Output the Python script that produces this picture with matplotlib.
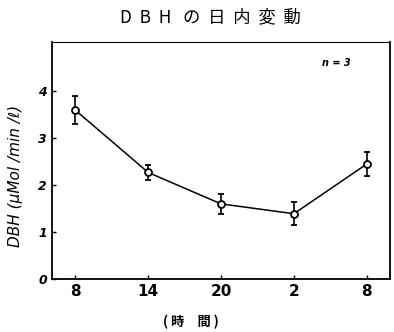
import matplotlib
matplotlib.use("Agg")
import matplotlib.pyplot as plt

# 時刻 (8時から翌8時まで)
hours = ["8", "14", "20", "2", "8"]
dbh_mean = [3.60, 2.27, 1.60, 1.39, 2.45]
dbh_err = [0.30, 0.15, 0.22, 0.24, 0.25]
y_ticks = [0, 1, 2, 3, 4]

plt.rcParams["font.family"] = ["DejaVu Sans", "Noto Sans CJK JP"]
cjk = ["Noto Sans CJK JP", "DejaVu Sans"]

fig = plt.figure(figsize=(3.94, 3.32), dpi=100)
ax = fig.add_axes([0.132, 0.160, 0.858, 0.713])

xs = list(range(len(hours)))
ax.errorbar(xs, dbh_mean, yerr=dbh_err, color="black", linewidth=1.1,
            elinewidth=1.2, capsize=2.5, capthick=1.2,
            marker="o", markersize=5, markerfacecolor="white",
            markeredgecolor="black", markeredgewidth=1.3)

ax.set_xlim(-0.32, 4.32)
ax.set_ylim(0, 5.05)
ax.set_xticks(xs)
ax.set_xticklabels(hours, fontsize=11, fontweight="bold")
ax.set_yticks(y_ticks)
ax.set_yticklabels([str(t) for t in y_ticks], fontsize=9, fontstyle="italic",
                   fontweight="bold")
ax.tick_params(direction="in", length=3, width=1)
for side in ["left", "bottom", "right"]:
    ax.spines[side].set_linewidth(1.3)
ax.spines["top"].set_linewidth(0.8)

ax.set_ylabel("DBH (μMol /min /ℓ)", fontsize=11, fontstyle="italic")
ax.yaxis.set_label_coords(-0.085, 0.435)
ax.set_xlabel("( 時　間 )", family=cjk, fontsize=9.5, fontweight="bold")
ax.xaxis.set_label_coords(0.41, -0.15)
ax.text(0.8, 0.9, "n = 3", transform=ax.transAxes, fontsize=7,
        fontweight="bold", fontstyle="italic")

fig.text(0.533, 0.948, "D  B  H   の  日  内  変  動", ha="center", va="center",
         family=cjk, fontsize=12.5, fontstyle="italic")

fig.savefig("out.png", dpi=100)
